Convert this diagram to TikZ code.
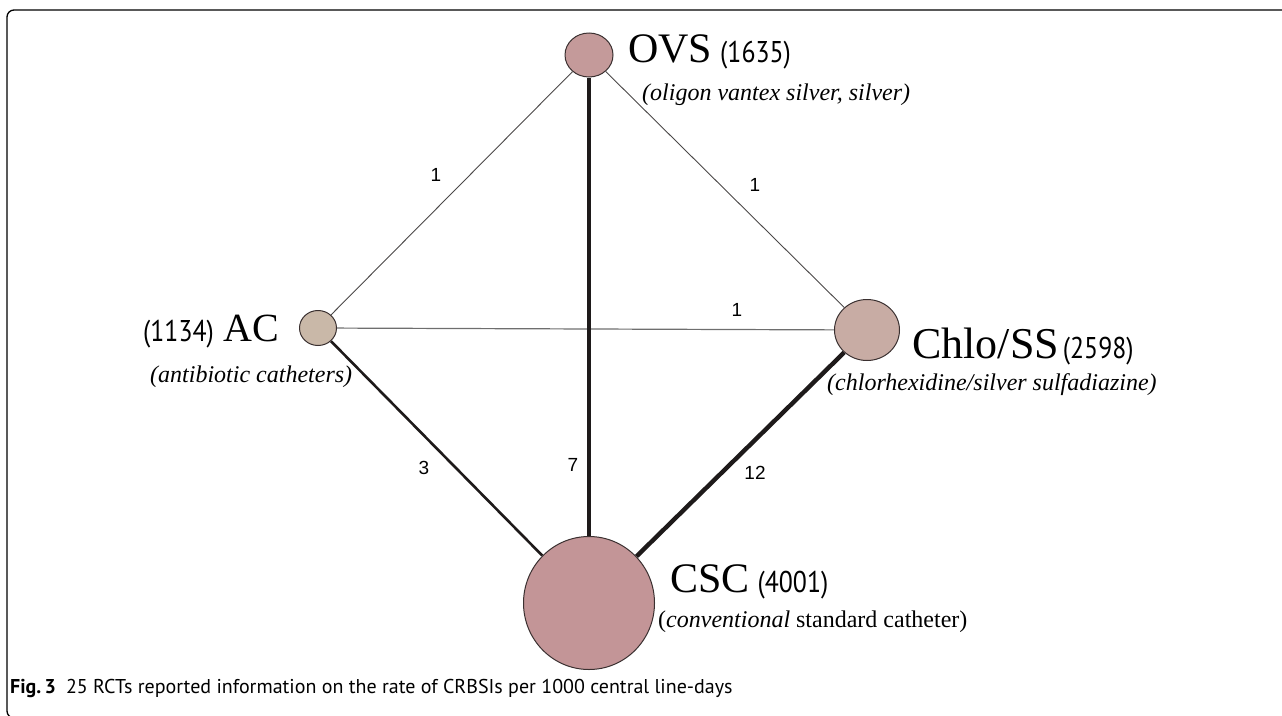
\documentclass[tikz,border=0pt]{standalone}
\usepackage{fontspec}
\setmainfont{Liberation Serif}
\newfontfamily\numfont[FakeStretch=0.86]{PT Sans}
\newfontfamily\capfont{PT Sans}
\newfontfamily\lblfont{Liberation Sans}
\usetikzlibrary{shapes.geometric,backgrounds}
\definecolor{ovsfill}{HTML}{C49A9A}
\definecolor{acfill}{HTML}{C9B8A8}
\definecolor{chlofill}{HTML}{C8ACA4}
\definecolor{cscfill}{HTML}{C39597}
\definecolor{rim}{HTML}{3A3030}
\definecolor{edgedark}{HTML}{1E1A1A}
\definecolor{edgegray}{HTML}{6E6E6E}
\newcommand{\paren}[1]{{\numfont\fontsize{30}{30}\selectfont#1}}
\tikzset{
  blob/.style={ellipse,draw=rim,line width=1pt,inner sep=0pt},
  thin edge/.style={draw=edgedark!80,line width=0.9pt},
  gray edge/.style={draw=edgegray,line width=1.2pt},
  thick edge/.style={draw=edgedark,line width=#1},
  elabel/.style={font=\lblfont\fontsize{19}{19}\selectfont,inner sep=0pt},
  bigname/.style={anchor=base west,inner sep=0pt,font=\fontsize{#1}{#1}\selectfont},
  gloss/.style={anchor=base west,inner sep=0pt,font=\fontsize{24}{24}\selectfont\itshape},
}
\begin{document}
\begin{tikzpicture}[x=1pt,y=-1pt]
\useasboundingbox (0,0) rectangle (1282,715);
% frame
\draw[line width=1.3pt,rounded corners=7pt] (1290,10) -- (7,10) -- (7,718) -- (40,718);
% nodes
\node[blob,fill=ovsfill,minimum width=48pt,minimum height=44pt] (ovs) at (589,55) {};
\node[blob,fill=acfill,minimum width=37pt,minimum height=35pt] (ac) at (318,328) {};
\node[blob,fill=chlofill,minimum width=65pt,minimum height=61pt] (chlo) at (867,330) {};
\node[blob,fill=cscfill,minimum width=131pt,minimum height=133pt] (csc) at (589,603) {};
% edges
\begin{pgfonlayer}{background}
\draw[thin edge] (ac) -- (ovs);
\draw[thin edge] (ovs) -- (chlo);
\draw[gray edge] (ac) -- (chlo);
\draw[thick edge=3.6pt] (ovs) -- (csc);
\draw[thick edge=2.6pt] (ac) -- (csc);
\draw[thick edge=4.4pt] (chlo) -- (csc);
\end{pgfonlayer}
% edge labels
\node[elabel] (l1) at (436,175) {1};
\node[elabel] (l2) at (755,185) {1};
\node[elabel] (l3) at (737,310) {1};
\node[elabel] (l4) at (424,468) {3};
\node[elabel] (l5) at (573,465) {7};
\node[elabel] (l6) at (755,473) {12};
% names
\node[bigname=42] (tovs) at (628,62) {OVS\hspace{8pt}\paren{(1635)}};
\node[gloss] (govs) at (642,100) {(oligon vantex silver, silver)};
\node[bigname=40] (tac) at (143,341) {\paren{(1134)}\hspace{10pt}AC};
\node[gloss] (gac) at (150,382) {(antibiotic catheters)};
\node[bigname=44] (tchlo) at (912,358) {Chlo/SS\hspace{4pt}\paren{(2598)}};
\node[gloss] (gchlo) at (827,390) {(chlorhexidine/silver sulfadiazine)};
\node[bigname=42] (tcsc) at (670,592) {CSC\hspace{8pt}\paren{(4001)}};
\node[anchor=base west,inner sep=0pt,font=\fontsize{24}{24}\selectfont] (gcsc) at (658,627) {(\textit{conventional} standard catheter)};
% caption
\node[anchor=base west,inner sep=0pt,font=\capfont\fontsize{20}{20}\selectfont] (cap) at (10,693) {\textbf{Fig.\,3}\hspace{10pt}25 RCTs reported information on the rate of CRBSIs per 1000 central line-days};
\end{tikzpicture}
\end{document}
